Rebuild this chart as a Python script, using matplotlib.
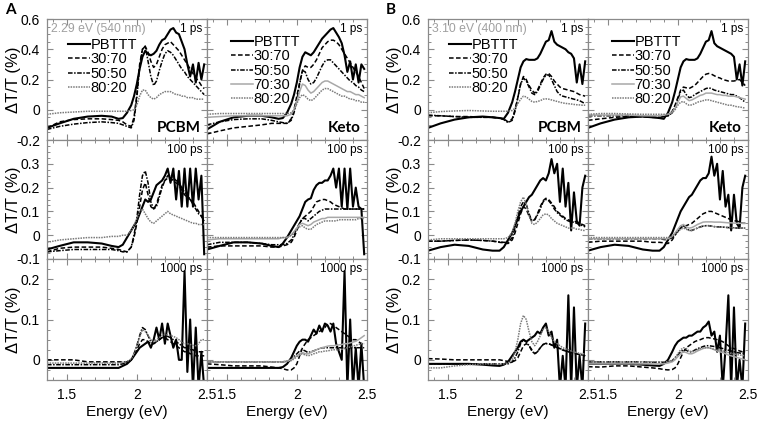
import numpy as np
import matplotlib.pyplot as plt
from matplotlib.ticker import MultipleLocator

plt.rcParams["font.family"] = ["Liberation Sans", "DejaVu Sans"]

# shared energy grid (eV)
energy = [1.36, 1.45, 1.55, 1.65, 1.75, 1.82, 1.87, 1.90, 1.93,
          1.96, 1.98, 2.00, 2.02, 2.04, 2.06, 2.08, 2.10, 2.12, 2.14,
          2.16, 2.18, 2.20, 2.22, 2.24, 2.26, 2.28, 2.30, 2.32, 2.34,
          2.36, 2.38, 2.40, 2.42, 2.44, 2.46, 2.48]

# ---- A: 2.29 eV pump ----
a_pcbm_1ps = {
    "PBTTT": [-0.12, -0.09, -0.06, -0.045, -0.04, -0.045, -0.06, -0.055, -0.02, 0.03, 0.09, 0.17, 0.27, 0.35, 0.39, 0.37, 0.36, 0.37, 0.39, 0.43, 0.46, 0.47, 0.50, 0.53, 0.54, 0.51, 0.50, 0.45, 0.40, 0.30, 0.22, 0.30, 0.18, 0.31, 0.20, 0.30],
    "30:70": [-0.12, -0.08, -0.065, -0.06, -0.06, -0.065, -0.07, -0.08, -0.10, -0.11, -0.05, 0.10, 0.30, 0.40, 0.42, 0.38, 0.32, 0.28, 0.30, 0.35, 0.40, 0.43, 0.44, 0.45, 0.43, 0.41, 0.39, 0.36, 0.33, 0.30, 0.27, 0.24, 0.21, 0.19, 0.16, 0.14],
    "50:50": [-0.13, -0.11, -0.095, -0.085, -0.08, -0.085, -0.09, -0.10, -0.11, -0.12, -0.07, 0.08, 0.28, 0.40, 0.42, 0.32, 0.22, 0.16, 0.19, 0.26, 0.32, 0.37, 0.39, 0.38, 0.36, 0.33, 0.30, 0.27, 0.25, 0.22, 0.20, 0.18, 0.16, 0.14, 0.12, 0.10],
    "80:20": [-0.03, -0.02, -0.015, -0.01, -0.01, -0.01, -0.01, -0.01, -0.01, -0.005, 0.0, 0.03, 0.09, 0.13, 0.13, 0.10, 0.08, 0.07, 0.08, 0.10, 0.11, 0.12, 0.12, 0.12, 0.11, 0.10, 0.10, 0.09, 0.09, 0.08, 0.08, 0.08, 0.07, 0.07, 0.07, 0.07],
}
a_keto_1ps = {
    "PBTTT": [-0.13, -0.08, -0.05, -0.04, -0.04, -0.05, -0.06, -0.055, -0.02, 0.04, 0.10, 0.18, 0.28, 0.35, 0.38, 0.37, 0.36, 0.38, 0.41, 0.44, 0.47, 0.49, 0.51, 0.53, 0.54, 0.51, 0.48, 0.44, 0.36, 0.25, 0.32, 0.20, 0.30, 0.18, 0.30, 0.27],
    "30:70": [-0.16, -0.14, -0.12, -0.11, -0.10, -0.09, -0.09, -0.09, -0.09, -0.06, 0.0, 0.09, 0.18, 0.26, 0.29, 0.28, 0.28, 0.30, 0.33, 0.37, 0.41, 0.43, 0.45, 0.46, 0.46, 0.45, 0.43, 0.40, 0.37, 0.34, 0.31, 0.28, 0.25, 0.22, 0.18, 0.14],
    "50:50": [-0.10, -0.08, -0.065, -0.06, -0.06, -0.07, -0.08, -0.085, -0.09, -0.07, -0.02, 0.06, 0.17, 0.26, 0.25, 0.20, 0.17, 0.18, 0.21, 0.25, 0.29, 0.32, 0.33, 0.33, 0.31, 0.29, 0.27, 0.25, 0.23, 0.21, 0.19, 0.18, 0.16, 0.15, 0.13, 0.12],
    "70:30": [-0.05, -0.045, -0.04, -0.04, -0.04, -0.04, -0.04, -0.04, -0.04, -0.03, 0.0, 0.05, 0.12, 0.17, 0.16, 0.13, 0.11, 0.12, 0.14, 0.16, 0.18, 0.19, 0.19, 0.18, 0.17, 0.16, 0.15, 0.14, 0.13, 0.12, 0.12, 0.11, 0.10, 0.10, 0.09, 0.08],
    "80:20": [-0.03, -0.025, -0.025, -0.025, -0.025, -0.025, -0.025, -0.025, -0.025, -0.02, 0.0, 0.04, 0.08, 0.10, 0.09, 0.07, 0.06, 0.07, 0.09, 0.11, 0.13, 0.14, 0.14, 0.13, 0.12, 0.11, 0.10, 0.09, 0.09, 0.08, 0.07, 0.07, 0.06, 0.06, 0.05, 0.05],
}
a_pcbm_100ps = {
    "PBTTT": [-0.06, -0.045, -0.03, -0.03, -0.035, -0.045, -0.05, -0.04, -0.01, 0.02, 0.04, 0.06, 0.09, 0.12, 0.15, 0.14, 0.15, 0.18, 0.21, 0.22, 0.23, 0.25, 0.28, 0.22, 0.28, 0.15, 0.27, 0.12, 0.28, 0.12, 0.28, 0.12, 0.28, 0.15, 0.25, -0.08],
    "30:70": [-0.07, -0.055, -0.05, -0.05, -0.05, -0.055, -0.06, -0.065, -0.07, -0.05, -0.01, 0.05, 0.12, 0.19, 0.22, 0.17, 0.12, 0.11, 0.13, 0.17, 0.21, 0.23, 0.24, 0.24, 0.23, 0.22, 0.21, 0.19, 0.17, 0.16, 0.15, 0.14, 0.12, 0.10, 0.08, 0.06],
    "50:50": [-0.07, -0.065, -0.06, -0.06, -0.06, -0.06, -0.065, -0.07, -0.07, -0.05, 0.0, 0.07, 0.17, 0.25, 0.27, 0.22, 0.14, 0.11, 0.12, 0.16, 0.20, 0.23, 0.25, 0.25, 0.24, 0.23, 0.22, 0.20, 0.18, 0.17, 0.15, 0.13, 0.11, 0.09, 0.08, 0.06],
    "80:20": [-0.03, -0.02, -0.015, -0.01, -0.01, -0.005, -0.005, 0.0, 0.0, 0.02, 0.04, 0.07, 0.10, 0.11, 0.09, 0.07, 0.055, 0.05, 0.06, 0.07, 0.08, 0.09, 0.10, 0.09, 0.085, 0.08, 0.075, 0.07, 0.065, 0.06, 0.055, 0.05, 0.05, 0.045, 0.045, 0.045],
}
a_keto_100ps = {
    "PBTTT": [-0.06, -0.045, -0.03, -0.03, -0.035, -0.045, -0.05, -0.035, -0.01, 0.02, 0.04, 0.06, 0.08, 0.11, 0.14, 0.15, 0.155, 0.19, 0.21, 0.22, 0.22, 0.23, 0.23, 0.25, 0.28, 0.20, 0.28, 0.12, 0.28, 0.11, 0.28, 0.12, 0.20, 0.12, 0.11, -0.08],
    "30:70": [-0.05, -0.045, -0.045, -0.045, -0.045, -0.05, -0.05, -0.045, -0.04, -0.03, -0.01, 0.02, 0.05, 0.07, 0.08, 0.09, 0.10, 0.12, 0.14, 0.145, 0.15, 0.15, 0.145, 0.14, 0.13, 0.125, 0.12, 0.115, 0.11, 0.11, 0.11, 0.11, 0.11, 0.11, 0.11, 0.11],
    "50:50": [-0.04, -0.03, -0.03, -0.03, -0.035, -0.04, -0.04, -0.04, -0.035, -0.02, 0.0, 0.03, 0.05, 0.07, 0.07, 0.06, 0.07, 0.08, 0.09, 0.10, 0.105, 0.11, 0.11, 0.11, 0.11, 0.11, 0.11, 0.11, 0.11, 0.11, 0.11, 0.11, 0.11, 0.11, 0.11, 0.11],
    "70:30": [-0.02, -0.015, -0.015, -0.015, -0.015, -0.015, -0.015, -0.01, -0.01, 0.0, 0.015, 0.03, 0.045, 0.05, 0.045, 0.04, 0.045, 0.055, 0.06, 0.065, 0.07, 0.07, 0.075, 0.075, 0.075, 0.075, 0.075, 0.075, 0.075, 0.075, 0.075, 0.075, 0.075, 0.075, 0.075, 0.075],
    "80:20": [-0.01, -0.01, -0.01, -0.01, -0.01, -0.01, -0.01, -0.01, -0.01, 0.0, 0.01, 0.025, 0.035, 0.04, 0.03, 0.025, 0.025, 0.035, 0.045, 0.05, 0.055, 0.06, 0.06, 0.06, 0.06, 0.06, 0.065, 0.065, 0.065, 0.065, 0.065, 0.065, 0.065, 0.07, 0.07, 0.07],
}
a_pcbm_1000ps = {
    "PBTTT": [-0.02, -0.02, -0.02, -0.02, -0.02, -0.02, -0.02, -0.015, -0.01, 0.0, 0.01, 0.02, 0.03, 0.035, 0.04, 0.045, 0.03, 0.05, 0.08, 0.05, 0.09, 0.04, 0.09, 0.06, 0.03, 0.05, 0.0, 0.0, 0.22, -0.03, 0.10, -0.07, 0.08, -0.07, 0.02, -0.07],
    "30:70": [0.0, 0.0, 0.0, -0.005, -0.005, -0.005, -0.005, -0.005, -0.005, 0.0, 0.01, 0.025, 0.04, 0.05, 0.05, 0.045, 0.04, 0.04, 0.045, 0.05, 0.055, 0.055, 0.05, 0.045, 0.04, 0.035, 0.03, 0.025, 0.02, 0.02, 0.015, 0.015, 0.01, 0.01, 0.01, 0.01],
    "50:50": [-0.012, -0.012, -0.012, -0.012, -0.012, -0.012, -0.012, -0.01, -0.008, 0.0, 0.015, 0.035, 0.06, 0.08, 0.075, 0.06, 0.045, 0.04, 0.045, 0.05, 0.055, 0.06, 0.058, 0.055, 0.05, 0.045, 0.04, 0.035, 0.03, 0.03, 0.025, 0.025, 0.02, 0.02, 0.02, 0.02],
    "80:20": [-0.008, -0.008, -0.008, -0.008, -0.008, -0.008, -0.008, -0.006, -0.004, 0.002, 0.015, 0.035, 0.055, 0.075, 0.07, 0.06, 0.05, 0.045, 0.05, 0.055, 0.06, 0.062, 0.062, 0.06, 0.058, 0.055, 0.05, 0.045, 0.04, 0.04, 0.038, 0.036, 0.035, 0.04, 0.05, 0.05],
}
a_keto_1000ps = {
    "PBTTT": [-0.02, -0.02, -0.02, -0.02, -0.02, -0.02, -0.02, -0.018, -0.01, 0.005, 0.02, 0.035, 0.045, 0.05, 0.05, 0.045, 0.06, 0.075, 0.065, 0.085, 0.07, 0.09, 0.085, 0.07, 0.09, 0.04, 0.02, 0.0, 0.22, -0.07, 0.10, -0.07, 0.03, -0.07, 0.04, -0.07],
    "30:70": [-0.01, -0.012, -0.015, -0.015, -0.015, -0.018, -0.02, -0.022, -0.025, -0.025, -0.02, -0.01, 0.01, 0.03, 0.04, 0.05, 0.055, 0.06, 0.065, 0.07, 0.075, 0.08, 0.09, 0.09, 0.085, 0.08, 0.075, 0.07, 0.065, 0.06, 0.055, 0.05, 0.05, 0.045, 0.04, 0.04],
    "50:50": [-0.005, -0.005, -0.005, -0.005, -0.005, -0.005, -0.005, -0.005, -0.003, 0.0, 0.008, 0.015, 0.022, 0.025, 0.022, 0.018, 0.02, 0.022, 0.025, 0.027, 0.03, 0.03, 0.03, 0.03, 0.03, 0.03, 0.03, 0.03, 0.03, 0.03, 0.03, 0.03, 0.03, 0.03, 0.03, 0.03],
    "70:30": [-0.005, -0.005, -0.005, -0.005, -0.005, -0.005, -0.005, -0.005, -0.003, 0.0, 0.005, 0.01, 0.015, 0.018, 0.015, 0.015, 0.018, 0.022, 0.025, 0.028, 0.03, 0.032, 0.034, 0.035, 0.035, 0.036, 0.037, 0.038, 0.04, 0.04, 0.042, 0.044, 0.046, 0.05, 0.055, 0.06],
    "80:20": [-0.005, -0.005, -0.005, -0.005, -0.005, -0.005, -0.005, -0.005, -0.004, -0.002, 0.002, 0.008, 0.012, 0.015, 0.012, 0.01, 0.012, 0.015, 0.017, 0.02, 0.02, 0.022, 0.022, 0.024, 0.025, 0.025, 0.025, 0.026, 0.028, 0.03, 0.032, 0.034, 0.036, 0.038, 0.04, 0.04],
}

# ---- B: 3.10 eV pump ----
b_pcbm_1ps = {
    "PBTTT": [-0.12, -0.09, -0.065, -0.05, -0.045, -0.05, -0.055, -0.06, -0.02, 0.05, 0.12, 0.20, 0.28, 0.32, 0.335, 0.33, 0.33, 0.33, 0.34, 0.37, 0.41, 0.45, 0.46, 0.52, 0.45, 0.43, 0.42, 0.41, 0.40, 0.38, 0.37, 0.34, 0.18, 0.30, 0.17, 0.32],
    "30:70": [-0.04, -0.04, -0.045, -0.045, -0.05, -0.05, -0.055, -0.06, -0.08, -0.06, 0.0, 0.08, 0.17, 0.22, 0.20, 0.16, 0.13, 0.11, 0.13, 0.17, 0.21, 0.235, 0.24, 0.22, 0.19, 0.17, 0.15, 0.14, 0.135, 0.13, 0.125, 0.12, 0.11, 0.10, 0.095, 0.09],
    "50:50": [-0.035, -0.04, -0.045, -0.05, -0.05, -0.05, -0.055, -0.065, -0.085, -0.07, -0.01, 0.08, 0.17, 0.21, 0.19, 0.15, 0.11, 0.10, 0.12, 0.16, 0.20, 0.23, 0.23, 0.20, 0.16, 0.12, 0.10, 0.09, 0.085, 0.08, 0.075, 0.07, 0.065, 0.06, 0.05, 0.04],
    "80:20": [-0.02, -0.012, -0.008, -0.005, -0.008, -0.01, -0.01, -0.01, -0.01, -0.005, 0.01, 0.04, 0.07, 0.09, 0.085, 0.07, 0.055, 0.05, 0.055, 0.06, 0.07, 0.072, 0.07, 0.065, 0.06, 0.055, 0.05, 0.045, 0.042, 0.04, 0.038, 0.035, 0.033, 0.032, 0.03, 0.03],
}
b_keto_1ps = {
    "PBTTT": [-0.12, -0.09, -0.065, -0.05, -0.045, -0.05, -0.055, -0.06, -0.02, 0.05, 0.12, 0.20, 0.28, 0.32, 0.335, 0.33, 0.33, 0.33, 0.34, 0.37, 0.41, 0.45, 0.46, 0.52, 0.44, 0.42, 0.41, 0.40, 0.39, 0.38, 0.37, 0.35, 0.20, 0.30, 0.16, 0.32],
    "30:70": [-0.07, -0.06, -0.05, -0.045, -0.045, -0.05, -0.05, -0.045, -0.04, -0.01, 0.03, 0.08, 0.13, 0.15, 0.145, 0.14, 0.15, 0.16, 0.18, 0.20, 0.22, 0.235, 0.24, 0.235, 0.225, 0.215, 0.21, 0.20, 0.195, 0.19, 0.19, 0.19, 0.195, 0.20, 0.18, 0.16],
    "50:50": [-0.04, -0.04, -0.04, -0.04, -0.045, -0.05, -0.05, -0.045, -0.04, -0.02, 0.02, 0.07, 0.12, 0.13, 0.10, 0.08, 0.085, 0.10, 0.11, 0.12, 0.13, 0.14, 0.145, 0.14, 0.13, 0.125, 0.12, 0.115, 0.11, 0.105, 0.10, 0.10, 0.09, 0.08, 0.065, 0.05],
    "70:30": [-0.035, -0.035, -0.035, -0.035, -0.04, -0.04, -0.04, -0.035, -0.03, -0.015, 0.01, 0.05, 0.085, 0.09, 0.075, 0.06, 0.065, 0.075, 0.085, 0.095, 0.10, 0.11, 0.11, 0.11, 0.105, 0.10, 0.10, 0.095, 0.095, 0.09, 0.09, 0.09, 0.085, 0.08, 0.075, 0.07],
    "80:20": [-0.03, -0.025, -0.025, -0.028, -0.03, -0.03, -0.03, -0.03, -0.03, -0.02, 0.0, 0.03, 0.05, 0.055, 0.04, 0.03, 0.032, 0.04, 0.05, 0.055, 0.06, 0.065, 0.065, 0.06, 0.055, 0.05, 0.045, 0.04, 0.035, 0.03, 0.03, 0.025, 0.02, 0.018, 0.015, 0.01],
}
b_pcbm_100ps = {
    "PBTTT": [-0.065, -0.05, -0.04, -0.045, -0.06, -0.065, -0.065, -0.05, -0.02, 0.01, 0.04, 0.07, 0.10, 0.12, 0.14, 0.16, 0.17, 0.19, 0.21, 0.23, 0.24, 0.23, 0.26, 0.32, 0.26, 0.30, 0.14, 0.28, 0.12, 0.22, 0.02, 0.18, 0.06, 0.04, 0.20, 0.25],
    "30:70": [-0.025, -0.025, -0.022, -0.02, -0.022, -0.025, -0.03, -0.032, -0.035, -0.02, 0.01, 0.05, 0.09, 0.12, 0.11, 0.08, 0.06, 0.065, 0.09, 0.12, 0.145, 0.155, 0.15, 0.135, 0.12, 0.10, 0.09, 0.08, 0.07, 0.065, 0.06, 0.06, 0.055, 0.05, 0.045, 0.04],
    "50:50": [-0.025, -0.025, -0.022, -0.02, -0.022, -0.025, -0.028, -0.03, -0.03, -0.01, 0.03, 0.08, 0.12, 0.14, 0.13, 0.09, 0.06, 0.065, 0.085, 0.11, 0.14, 0.15, 0.145, 0.13, 0.11, 0.095, 0.085, 0.075, 0.065, 0.06, 0.055, 0.055, 0.05, 0.045, 0.04, 0.035],
    "80:20": [-0.02, -0.015, -0.015, -0.015, -0.015, -0.015, -0.015, -0.015, -0.01, 0.01, 0.05, 0.10, 0.14, 0.16, 0.13, 0.08, 0.05, 0.045, 0.055, 0.07, 0.085, 0.09, 0.085, 0.07, 0.06, 0.05, 0.045, 0.04, 0.035, 0.03, 0.03, 0.03, 0.025, 0.025, 0.02, 0.02],
}
b_keto_100ps = {
    "PBTTT": [-0.065, -0.05, -0.04, -0.045, -0.06, -0.065, -0.065, -0.05, -0.02, 0.01, 0.04, 0.07, 0.10, 0.12, 0.14, 0.16, 0.17, 0.19, 0.21, 0.23, 0.24, 0.24, 0.26, 0.33, 0.25, 0.30, 0.15, 0.27, 0.12, 0.17, 0.02, 0.17, 0.05, 0.03, 0.20, 0.25],
    "30:70": [-0.03, -0.025, -0.025, -0.025, -0.025, -0.03, -0.03, -0.032, -0.035, -0.02, 0.0, 0.02, 0.03, 0.04, 0.04, 0.045, 0.05, 0.06, 0.07, 0.08, 0.09, 0.095, 0.10, 0.10, 0.095, 0.09, 0.085, 0.08, 0.075, 0.07, 0.065, 0.06, 0.06, 0.055, 0.05, 0.05],
    "50:50": [-0.015, -0.015, -0.015, -0.015, -0.015, -0.015, -0.015, -0.018, -0.02, -0.01, 0.0, 0.015, 0.03, 0.04, 0.03, 0.02, 0.02, 0.025, 0.03, 0.035, 0.038, 0.04, 0.04, 0.038, 0.036, 0.035, 0.035, 0.034, 0.033, 0.032, 0.032, 0.031, 0.03, 0.03, 0.03, 0.03],
    "70:30": [-0.015, -0.015, -0.015, -0.015, -0.015, -0.015, -0.015, -0.015, -0.015, -0.005, 0.01, 0.025, 0.04, 0.045, 0.035, 0.03, 0.032, 0.038, 0.045, 0.05, 0.055, 0.056, 0.056, 0.056, 0.055, 0.055, 0.055, 0.054, 0.053, 0.052, 0.052, 0.051, 0.05, 0.05, 0.05, 0.05],
    "80:20": [-0.01, -0.01, -0.01, -0.01, -0.01, -0.01, -0.01, -0.01, -0.01, -0.005, 0.005, 0.015, 0.025, 0.03, 0.025, 0.02, 0.02, 0.025, 0.03, 0.035, 0.038, 0.04, 0.04, 0.038, 0.036, 0.035, 0.035, 0.034, 0.033, 0.032, 0.032, 0.031, 0.03, 0.03, 0.03, 0.03],
}
b_pcbm_1000ps = {
    "PBTTT": [-0.01, -0.01, -0.01, -0.01, -0.012, -0.014, -0.015, -0.012, -0.005, 0.01, 0.02, 0.03, 0.045, 0.05, 0.045, 0.05, 0.055, 0.06, 0.07, 0.065, 0.08, 0.09, 0.06, 0.07, 0.03, 0.05, -0.07, 0.01, -0.07, 0.16, -0.07, 0.13, -0.07, 0.01, -0.07, 0.09],
    "30:70": [0.003, 0.002, 0.0, 0.0, 0.0, 0.0, 0.0, -0.002, -0.004, -0.005, -0.002, 0.005, 0.02, 0.035, 0.04, 0.035, 0.025, 0.015, 0.02, 0.03, 0.038, 0.041, 0.04, 0.037, 0.034, 0.03, 0.027, 0.024, 0.022, 0.02, 0.018, 0.016, 0.015, 0.013, 0.012, 0.01],
    "50:50": [-0.01, -0.01, -0.01, -0.01, -0.01, -0.01, -0.01, -0.01, -0.01, -0.005, 0.005, 0.02, 0.04, 0.05, 0.045, 0.035, 0.022, 0.015, 0.02, 0.03, 0.038, 0.04, 0.04, 0.037, 0.034, 0.031, 0.028, 0.025, 0.023, 0.02, 0.018, 0.016, 0.015, 0.013, 0.012, 0.01],
    "80:20": [-0.02, -0.02, -0.015, -0.012, -0.01, -0.01, -0.01, -0.01, -0.008, 0.0, 0.02, 0.05, 0.09, 0.11, 0.10, 0.07, 0.045, 0.035, 0.045, 0.06, 0.075, 0.08, 0.07, 0.055, 0.045, 0.04, 0.035, 0.03, 0.027, 0.025, 0.022, 0.02, 0.018, 0.016, 0.015, 0.015],
}
b_keto_1000ps = {
    "PBTTT": [-0.01, -0.01, -0.01, -0.01, -0.012, -0.014, -0.015, -0.01, 0.0, 0.02, 0.035, 0.045, 0.05, 0.055, 0.055, 0.06, 0.06, 0.065, 0.07, 0.07, 0.08, 0.085, 0.095, 0.06, 0.07, 0.02, 0.06, -0.07, 0.03, 0.16, -0.07, 0.13, -0.07, 0.0, -0.07, 0.09],
    "30:70": [-0.017, -0.018, -0.015, -0.015, -0.018, -0.02, -0.022, -0.024, -0.025, -0.024, -0.02, -0.01, 0.005, 0.02, 0.03, 0.035, 0.04, 0.045, 0.048, 0.05, 0.053, 0.055, 0.055, 0.053, 0.052, 0.05, 0.048, 0.045, 0.04, 0.035, 0.03, 0.028, 0.025, 0.022, 0.02, 0.02],
    "50:50": [-0.005, -0.005, -0.005, -0.005, -0.005, -0.006, -0.006, -0.006, -0.005, -0.002, 0.005, 0.012, 0.02, 0.025, 0.024, 0.02, 0.02, 0.024, 0.028, 0.03, 0.033, 0.035, 0.035, 0.034, 0.033, 0.032, 0.03, 0.028, 0.026, 0.024, 0.022, 0.02, 0.018, 0.017, 0.016, 0.015],
    "70:30": [-0.01, -0.01, -0.01, -0.01, -0.01, -0.01, -0.01, -0.01, -0.008, -0.005, 0.0, 0.008, 0.015, 0.02, 0.018, 0.015, 0.015, 0.018, 0.022, 0.025, 0.028, 0.03, 0.03, 0.028, 0.025, 0.022, 0.02, 0.018, 0.015, 0.012, 0.01, 0.008, 0.006, 0.004, 0.002, 0.0],
    "80:20": [-0.005, -0.005, -0.005, -0.005, -0.005, -0.005, -0.005, -0.005, -0.004, -0.002, 0.005, 0.015, 0.025, 0.03, 0.028, 0.022, 0.02, 0.022, 0.025, 0.028, 0.03, 0.03, 0.03, 0.028, 0.026, 0.025, 0.025, 0.022, 0.02, 0.018, 0.016, 0.015, 0.013, 0.012, 0.011, 0.01],
}

delays = ["1 ps", "100 ps", "1000 ps"]
acceptors = ["PCBM", "Keto"]
pumps = ["2.29 eV (540 nm)", "3.10 eV (400 nm)"]
group_labels = ["A", "B"]
xticks = [1.5, 2.0, 2.5]
xticklabels = ["1.5", "2", "2.5"]

panels = [
    [[a_pcbm_1ps, a_keto_1ps], [a_pcbm_100ps, a_keto_100ps], [a_pcbm_1000ps, a_keto_1000ps]],
    [[b_pcbm_1ps, b_keto_1ps], [b_pcbm_100ps, b_keto_100ps], [b_pcbm_1000ps, b_keto_1000ps]],
]

styles = {
    "PBTTT": dict(color="black", lw=1.5, ls="-"),
    "30:70": dict(color="black", lw=1.1, ls=(0, (3, 1.6))),
    "50:50": dict(color="black", lw=1.1, ls=(0, (3, 1, 1, 1))),
    "70:30": dict(color="#a8a8a8", lw=1.1, ls="-"),
    "80:20": dict(color="#7a7a7a", lw=1.1, ls=(0, (1, 0.7))),
}

row_ylim = [(-0.2, 0.6), (-0.1, 0.4), (-0.05, 0.25)]
row_yticks = [[-0.2, 0, 0.2, 0.4, 0.6], [-0.1, 0, 0.1, 0.2, 0.3], [0, 0.1, 0.2]]
row_ylabels = [["-0.2", "0", "0.2", "0.4", "0.6"], ["-0.1", "0", "0.1", "0.2", "0.3"], ["0", "0.1", "0.2"]]
row_minor = [0.05, 0.025, 0.025]

W, H = 758, 426
fig = plt.figure(figsize=(W / 100, H / 100), dpi=100)

group_x0 = [47, 428]
col_w = 160
row_edges = [19, 140, 259, 380]
spine_col = "#8a8a8a"

for g in range(2):
    for r in range(3):
        for c in range(2):
            x0 = group_x0[g] + c * col_w
            top, bot = row_edges[r], row_edges[r + 1]
            ax = fig.add_axes([x0 / W, 1 - bot / H, col_w / W, (bot - top) / H])
            data = panels[g][r][c]
            for name, vals in data.items():
                ax.plot(energy, vals, label=name, **styles[name])
            ax.set_xlim(1.36, 2.5)
            ax.set_ylim(*row_ylim[r])
            ax.set_xticks(xticks)
            ax.xaxis.set_minor_locator(MultipleLocator(0.1))
            ax.set_yticks(row_yticks[r])
            ax.yaxis.set_minor_locator(MultipleLocator(row_minor[r]))
            ax.tick_params(which="both", direction="in", top=True, right=True,
                           color=spine_col, labelsize=10)
            ax.tick_params(axis="y", pad=5)
            ax.tick_params(axis="x", pad=6)
            ax.tick_params(which="major", length=4, width=0.8)
            ax.tick_params(which="minor", length=2.5, width=0.7)
            for sp in ax.spines.values():
                sp.set_color(spine_col)
                sp.set_linewidth(0.9)
            if c == 0:
                ax.set_yticklabels(row_ylabels[r])
                ax.set_ylabel("\u0394T/T (%)", fontsize=12)
                ax.yaxis.set_label_coords(-0.165, 0.5)
            else:
                ax.set_yticklabels([])
            if r == 2:
                ax.set_xticklabels(xticklabels)
                ax.set_xlabel("Energy (eV)", fontsize=11, labelpad=2)
            else:
                ax.set_xticklabels([])
            ax.text(0.97, 0.965, delays[r], transform=ax.transAxes,
                    ha="right", va="top", fontsize=8.5)
            if r == 0:
                ax.text(0.96, 0.04, acceptors[c], transform=ax.transAxes,
                        ha="right", va="bottom", fontsize=11, fontweight="bold",
                        family=["Lato", "DejaVu Sans"])
                if c == 0:
                    ax.text(0.025, 0.97, pumps[g], transform=ax.transAxes,
                            ha="left", va="top", fontsize=8.8, color="#a0a0a0")
                    loc = (0.13, 0.845)
                else:
                    loc = (0.15, 0.87)
                ax.legend(loc="upper left", bbox_to_anchor=loc, frameon=False,
                          fontsize=10.5, handlelength=1.5, handletextpad=0.05,
                          labelspacing=0.03, borderaxespad=0, borderpad=0)

for g in range(2):
    fig.text((group_x0[g] - 42) / W, 1 - 10 / H, group_labels[g], fontsize=11,
             fontweight="bold", ha="left", va="center", family=["Lato", "DejaVu Sans"])

fig.savefig("out.png", dpi=100)
